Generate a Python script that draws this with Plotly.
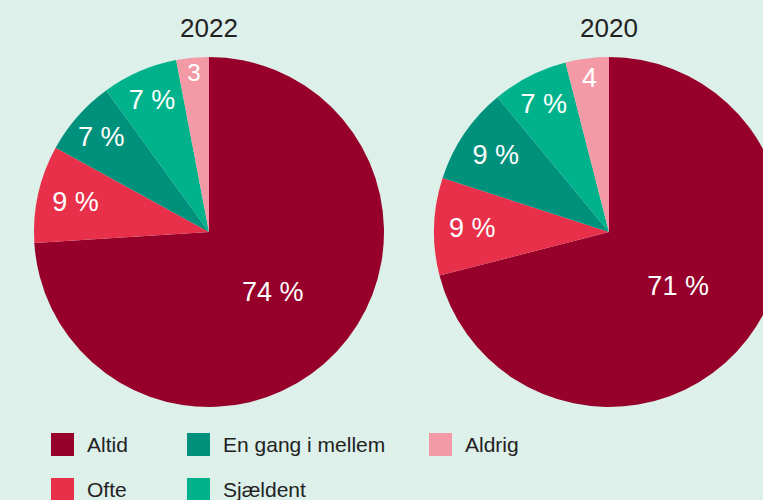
import plotly.graph_objects as go

labels = ['Altid', 'Ofte', 'En gang i mellem', 'Sjældent', 'Aldrig']
colors = ['#96002a', '#e8304a', '#00917c', '#00b28b', '#f49aa6']
years = ['2022', '2020']
values_2022 = [74, 9, 7, 7, 3]
values_2020 = [71, 9, 9, 7, 4]

# legend layout: column-wise, like the original
legend_order = ['Altid', 'En gang i mellem', 'Aldrig', 'Ofte', 'Sjældent']

W, H = 800, 500
BG = '#ddf0ea'


def slice_text(vals):
    return [f"{v}" if lbl == 'Aldrig' else f"{v} %" for lbl, v in zip(labels, vals)]


fig = go.Figure()

pie_domains = [
    dict(x=[34 / W, 384 / W], y=[93 / H, 443 / H]),
    dict(x=[434 / W, 784 / W], y=[93 / H, 443 / H]),
]

for year, vals, dom in zip(years, [values_2022, values_2020], pie_domains):
    fig.add_trace(go.Pie(
        labels=labels,
        values=vals,
        text=slice_text(vals),
        textinfo='text',
        textposition='inside',
        insidetextorientation='horizontal',
        insidetextfont=dict(color='white', size=27, family='Liberation Sans, Arial, sans-serif'),
        marker=dict(colors=colors, line=dict(width=0)),
        sort=False,
        direction='clockwise',
        rotation=0,
        domain=dom,
        hoverinfo='label+value',
        showlegend=False,
        name=year,
    ))

    cx = (dom['x'][0] + dom['x'][1]) / 2
    fig.add_annotation(x=cx, y=1 - 28 / H, xref='paper', yref='paper',
                       text=year, showarrow=False, xanchor='center', yanchor='middle',
                       font=dict(size=26, color='#222222'))

# manual legend
col_sq = [51, 187, 429]
row_cy = [444.5, 489.5]
sq = 23
for i, lbl in enumerate(legend_order):
    col, row = i % 3, i // 3
    x0 = col_sq[col]
    cy = row_cy[row]
    fig.add_shape(type='rect', xref='paper', yref='paper',
                  x0=x0 / W, x1=(x0 + sq) / W,
                  y0=1 - (cy + sq / 2) / H, y1=1 - (cy - sq / 2) / H,
                  fillcolor=colors[labels.index(lbl)], line=dict(width=0))
    fig.add_annotation(x=(x0 + sq + 11) / W, y=1 - cy / H, xref='paper', yref='paper',
                       text=lbl, showarrow=False, xanchor='left', yanchor='middle',
                       font=dict(size=21, color='#222222'))

fig.update_layout(
    width=W, height=H,
    margin=dict(l=0, r=0, t=0, b=0),
    paper_bgcolor=BG,
    plot_bgcolor=BG,
    font=dict(family='Liberation Sans, Arial, sans-serif'),
)

fig.write_html("out.html",
               config={'displayModeBar': False},
               post_script="document.body.style.margin='0';document.body.style.overflow='hidden';")
